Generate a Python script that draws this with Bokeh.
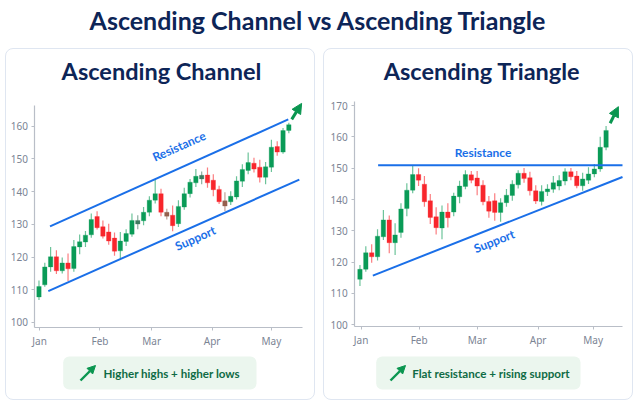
from bokeh.plotting import figure
from bokeh.layouts import column, row
from bokeh.models import (Range1d, FixedTicker, Label, BoxAnnotation, Arrow, NormalHead,
                          ColumnDataSource, LinearAxis)
from bokeh.embed import file_html
from bokeh.resources import INLINE

# ---- data -------------------------------------------------------------
main_title = "Ascending Channel vs Ascending Triangle"
months = ["Jan", "Feb", "Mar", "Apr", "May"]

ch_title = "Ascending Channel"
ch_caption = "Higher highs + higher lows"
ch_open  = [107.8,111.5,117.0,120.1,115.8,118.2,116.5,123.1,124.6,126.8,132.4,129.3,127.7,125.8,121.9,124.8,127.0,130.1,131.1,133.7,137.4,139.4,133.7,132.8,130.2,135.3,139.4,142.7,143.9,145.1,143.5,140.7,137.2,136.9,138.4,143.2,146.5,148.7,147.5,144.4,147.5,153.8,152.1,158.7]
ch_close = [111.0,117.0,120.1,115.8,118.2,116.4,123.2,124.7,126.7,131.5,129.0,126.4,124.9,121.8,124.9,127.2,131.2,131.2,133.7,137.4,139.4,133.7,132.5,129.6,135.5,139.4,142.9,144.7,145.0,142.7,140.6,136.9,135.6,138.6,143.3,146.8,148.9,146.9,144.4,147.6,153.6,152.1,158.7,160.5]
ch_high  = [112.8,118.3,123.1,122.1,119.9,121.1,125.2,126.9,128.0,133.3,134.0,131.2,130.2,127.5,127.7,128.5,133.3,132.8,135.3,138.6,143.7,140.9,134.8,135.8,137.4,141.2,143.9,146.9,146.2,147.4,145.3,141.8,139.8,140.1,144.7,148.4,152.0,150.4,149.8,149.1,155.9,155.4,159.5,161.1]
ch_low   = [106.9,110.9,115.5,114.8,115.0,112.7,115.5,120.9,123.1,125.9,128.4,125.7,123.8,120.4,119.6,123.4,126.2,128.5,129.7,132.5,136.4,132.5,131.5,127.9,129.2,134.5,138.2,141.4,142.3,141.2,138.6,136.2,134.1,135.9,137.6,141.4,145.3,145.9,142.8,142.3,146.0,151.0,151.6,157.9]
ch_muted = [17, 22, 28, 32]
ch_month_pos = [0.1, 10.5, 19.4, 29.8, 40.0]
ch_y_ticks = [100, 110, 120, 130, 140, 150, 160]
ch_res_x = [1.9, 42.9]
ch_res_y = [129.4, 162.1]
ch_sup_x = [1.6, 44.8]
ch_sup_y = [109.6, 143.7]

tr_title = "Ascending Triangle"
tr_caption = "Flat resistance + rising support"
tr_open  = [114.5,117.7,123.0,121.7,128.1,133.5,126.2,129.5,137.1,143.0,148.0,144.9,139.6,134.5,130.9,136.0,136.0,140.9,144.2,147.9,146.9,144.6,139.4,139.6,135.9,139.0,141.3,144.7,148.4,147.0,142.8,139.4,142.5,143.3,144.3,145.9,148.9,147.5,144.4,146.2,148.2,149.8,156.7]
tr_close = [117.7,123.0,121.7,128.3,133.5,126.2,128.7,137.0,143.0,148.0,146.2,139.3,134.3,131.0,136.0,134.2,141.1,144.3,148.0,146.2,144.3,139.3,136.3,135.9,139.0,141.4,144.9,148.4,146.7,142.8,139.5,142.6,143.4,145.4,146.1,148.9,147.3,144.4,146.6,148.2,149.8,156.7,162.1]
tr_high  = [119.1,125.1,125.7,130.5,136.7,134.9,132.4,138.8,145.2,150.9,150.0,147.5,141.8,137.5,138.1,138.8,142.2,146.0,149.4,149.1,149.1,146.2,141.1,142.0,140.4,143.4,146.2,149.4,150.1,148.9,144.6,144.6,144.9,147.5,147.8,150.0,150.1,149.1,148.6,150.3,151.4,160.1,163.5]
tr_low   = [112.4,116.9,119.8,120.5,127.1,122.8,122.3,127.8,134.7,142.0,144.3,137.7,132.2,128.8,127.3,131.1,134.7,138.8,143.3,145.2,141.4,138.2,134.2,133.2,132.9,137.7,139.6,143.5,145.4,141.3,138.6,138.1,141.1,142.2,143.0,144.6,146.2,143.6,142.8,145.0,147.1,148.9,155.8]
tr_muted = []
tr_month_pos = [0.2, 10.1, 20.0, 30.4, 39.8]
tr_y_ticks = [100, 110, 120, 130, 140, 150, 160, 170]
tr_res_x = [3.1, 44.8]
tr_res_y = [151.0, 151.0]
tr_sup_x = [2.2, 44.8]
tr_sup_y = [115.7, 147.2]

# ---- style ------------------------------------------------------------
NAVY = "#0d2557"; BLUE = "#1a6fe8"; GREEN = "#0a9b57"; RED = "#f8262c"
ARROW = "#0a9650"; CAPTION = "#0f6b45"; PILL = "#ebf6ee"; CARD = "#dfe6f1"
AXIS = "#b9bec7"; TICK = "#7b8494"
FONT = "Noto Sans"
HEAD_FONT = "Lato"


def panel(title, caption, o, c, h, l, muted, month_pos, y_ticks, res, sup, cfg):
    # The frame fills the whole card; the axes are pinned inside it.
    f = figure(width=310, height=352, output_backend="svg", toolbar_location=None,
               x_range=Range1d(*cfg["xr"]), y_range=Range1d(*cfg["yr"]),
               x_axis_type=None, y_axis_type=None, min_border=0,
               background_fill_color=None, border_fill_color=None, outline_line_color=None)
    f.styles = {"border": f"1px solid {CARD}", "border-radius": "8px", "box-sizing": "border-box"}
    f.grid.visible = False

    f.add_layout(BoxAnnotation(left=cfg["pill"][0], right=cfg["pill"][1], top=cfg["pill"][2], bottom=cfg["pill"][3],
                               left_units="screen", right_units="screen",
                               top_units="screen", bottom_units="screen",
                               fill_color=PILL, fill_alpha=1, line_color=None,
                               border_radius=6, level="underlay"))

    xax = LinearAxis(fixed_location=cfg["axis_y"], bounds=(cfg["axis_x"], cfg["axis_xr"]),
                     ticker=FixedTicker(ticks=month_pos),
                     major_label_overrides=dict(zip(month_pos, months)))
    yax = LinearAxis(fixed_location=cfg["axis_x"], bounds=(cfg["axis_y"], cfg["axis_yt"]),
                     ticker=FixedTicker(ticks=y_ticks))
    for ax in (xax, yax):
        ax.axis_line_color = AXIS
        ax.axis_line_width = 1.2
        ax.major_tick_line_color = AXIS
        ax.major_tick_out = 3
        ax.major_tick_in = 0
        ax.minor_tick_line_color = None
        ax.major_label_text_color = TICK
        ax.major_label_text_font = FONT
        ax.major_label_text_font_size = "10px"
        ax.major_label_standoff = 4
    f.add_layout(xax, "below")
    f.add_layout(yax, "left")

    xs = list(range(len(o)))
    colors = []
    for i in xs:
        up = c[i] >= o[i]
        if i in muted:
            colors.append("#3d7a60" if up else "#96604e")
        else:
            colors.append(GREEN if up else RED)
    src = ColumnDataSource(dict(x=xs, top=[max(a, b) for a, b in zip(o, c)],
                                bottom=[min(a, b) for a, b in zip(o, c)],
                                high=h, low=l, color=colors))
    f.segment("x", "low", "x", "high", source=src, line_color="color", line_width=1.2, line_alpha=0.6)
    f.vbar("x", 0.76, "bottom", "top", source=src, fill_color="color", line_color="color", line_width=0.3)

    f.line(res[0], res[1], line_color=BLUE, line_width=2)
    f.line(sup[0], sup[1], line_color=BLUE, line_width=2)

    f.add_layout(Label(x=cfg["res_lab"][0], y=cfg["res_lab"][1], text="Resistance", angle=cfg["res_lab"][2],
                       angle_units="deg", text_align="center", text_baseline="middle",
                       text_color=BLUE, text_font=HEAD_FONT, text_font_style="bold", text_font_size="12px"))
    f.add_layout(Label(x=cfg["sup_lab"][0], y=cfg["sup_lab"][1], text="Support", angle=cfg["sup_lab"][2],
                       angle_units="deg", text_align="center", text_baseline="middle",
                       text_color=BLUE, text_font=HEAD_FONT, text_font_style="bold", text_font_size="12px"))

    f.add_layout(Arrow(x_start=cfg["arrow"][0], y_start=cfg["arrow"][1], x_end=cfg["arrow"][2], y_end=cfg["arrow"][3],
                       line_color=ARROW, line_width=3,
                       end=NormalHead(size=10, fill_color=ARROW, line_color=ARROW)))
    a = cfg["mini"]
    f.add_layout(Arrow(x_start=a[0], y_start=a[1], x_end=a[2], y_end=a[3],
                       start_units="screen", end_units="screen",
                       line_color=ARROW, line_width=2.4,
                       end=NormalHead(size=8, fill_color=ARROW, line_color=ARROW)))

    f.add_layout(Label(x=cfg["title_pos"][0], y=cfg["title_pos"][1], x_units="screen", y_units="screen", text=title,
                       text_align="center", text_baseline="middle", text_color=NAVY,
                       text_font=HEAD_FONT, text_font_style="bold", text_font_size="23.5px"))
    f.add_layout(Label(x=cfg["cap_pos"][0], y=cfg["cap_pos"][1], x_units="screen", y_units="screen", text=caption,
                       text_align="left", text_baseline="middle", text_color=CAPTION,
                       text_font=HEAD_FONT, text_font_style="bold", text_font_size="11.6px"))
    return f


ch_cfg = dict(xr=(-5.59, 47.76), yr=(75.83, 183.48), axis_x=-0.69, axis_xr=45.4, axis_y=98.47, axis_yt=166.4,
              pill=(56.7, 250, 45, 12), title_pos=(155, 331), cap_pos=(97, 28),
              res_lab=(24.1, 153.9, 24), sup_lab=(26.9, 125.8, 24),
              arrow=(43.5, 162.1, 45.2, 167.0), mini=(74, 21, 89, 36))
tr_cfg = dict(xr=(-6.05, 46.85), yr=(75.44, 187.97), axis_x=-0.9, axis_xr=44.8, axis_y=99.57, axis_yt=171.5,
              pill=(51.7, 256, 45, 12), title_pos=(157.5, 331), cap_pos=(87.7, 28),
              res_lab=(21.0, 155.2, 0), sup_lab=(22.9, 126.7, 21.5),
              arrow=(42.7, 164.4, 44.1, 169.7), mini=(66, 21, 81, 36))

f1 = panel(ch_title, ch_caption, ch_open, ch_close, ch_high, ch_low, ch_muted, ch_month_pos,
           ch_y_ticks, (ch_res_x, ch_res_y), (ch_sup_x, ch_sup_y), ch_cfg)
f2 = panel(tr_title, tr_caption, tr_open, tr_close, tr_high, tr_low, tr_muted, tr_month_pos,
           tr_y_ticks, (tr_res_x, tr_res_y), (tr_sup_x, tr_sup_y), tr_cfg)
f1.margin = (0, 4, 0, 5)
f2.margin = (0, 0, 0, 4)

head = figure(width=638, height=48, output_backend="svg", toolbar_location=None,
              x_range=Range1d(0, 1), y_range=Range1d(0, 1), min_border=0,
              background_fill_color=None, border_fill_color=None, outline_line_color=None,
              x_axis_type=None, y_axis_type=None)
head.grid.visible = False
head.add_layout(Label(x=318, y=29, x_units="screen", y_units="screen", text=main_title,
                      text_align="center", text_baseline="middle", text_color=NAVY,
                      text_font=HEAD_FONT, text_font_style="bold", text_font_size="25px"))

page = column(head, row(f1, f2, spacing=0), spacing=0)
open("out.html", "w").write(file_html(page, INLINE))
